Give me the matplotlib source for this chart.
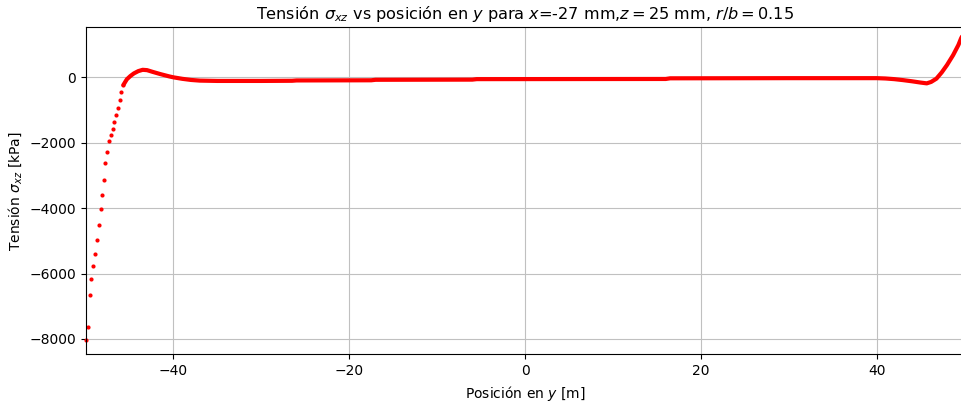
import matplotlib
matplotlib.use("Agg")
import matplotlib.pyplot as plt

# Steep region near y = -50 (drawn as separate dots)
y_pos_dots = [-50.0, -49.68, -49.49, -49.34, -49.15, -48.92, -48.69, -48.46, -48.27,
              -48.09, -47.93, -47.75, -47.55, -47.29, -47.10, -46.87, -46.72, -46.56,
              -46.30, -46.11, -45.93, -45.70]
sigma_dots = [-8030, -7627, -6667, -6168, -5761, -5394, -4985, -4517, -4037,
              -3590, -3131, -2630, -2284, -1957, -1765, -1590, -1367, -1153,
              -930, -694, -440, -235]

# Dense region (dots merge into a continuous trace)
y_pos_line = [-45.7, -45.3, -44.9, -44.5, -44.0, -43.5, -43.0, -42.4, -41.5, -40.5,
              -40.0, -39.0, -38.0, -37.0, -35.0, -30.0, -26.5, -26.0, -17.5, -17.0,
              -6.0, -5.5, 16.0, 16.5, 30.0, 38.0, 40.0, 41.0, 42.0, 43.0,
              44.0, 45.0, 45.7, 46.2, 46.8, 47.4, 48.0, 48.7, 49.3, 49.6, 50.0]
sigma_line = [-235, -60, 40, 120, 190, 230, 220, 170, 100, 30,
              0, -45, -80, -100, -110, -110, -105, -95, -90, -75,
              -70, -55, -50, -30, -25, -25, -25, -35, -55, -85,
              -120, -160, -184, -140, -40, 150, 376, 680, 990, 1190, 1400]

fig = plt.figure(figsize=(9.61, 4.07), dpi=100)
ax = fig.add_axes([0.0890, 0.1295, 0.9147, 0.8034])

ax.plot(y_pos_line, sigma_line, '-', color='red', lw=3.0, solid_capstyle='round',
        solid_joinstyle='round')
ax.plot(y_pos_dots, sigma_dots, '.', color='red', ms=6, mew=0, clip_on=False)

ax.set_xlim(-50, 50)
ax.set_ylim(-8470, 1530)
ax.set_xticks([-40, -20, 0, 20, 40])
ax.set_yticks([-8000, -6000, -4000, -2000, 0])
ax.grid(True, color='#c0c0c0', lw=0.8)
ax.tick_params(labelsize=10)

ax.set_title(r'Tensión $\sigma_{xz}$ vs posición en $y$ para $x$=-27 mm,$z = 25$ mm, $r/b = 0.15$',
             fontsize=11.6)
ax.set_xlabel(r'Posición en $y$ [m]', fontsize=10)
ax.set_ylabel(r'Tensión $\sigma_{xz}$ [kPa]', fontsize=10)

fig.savefig('out.png', dpi=100)
